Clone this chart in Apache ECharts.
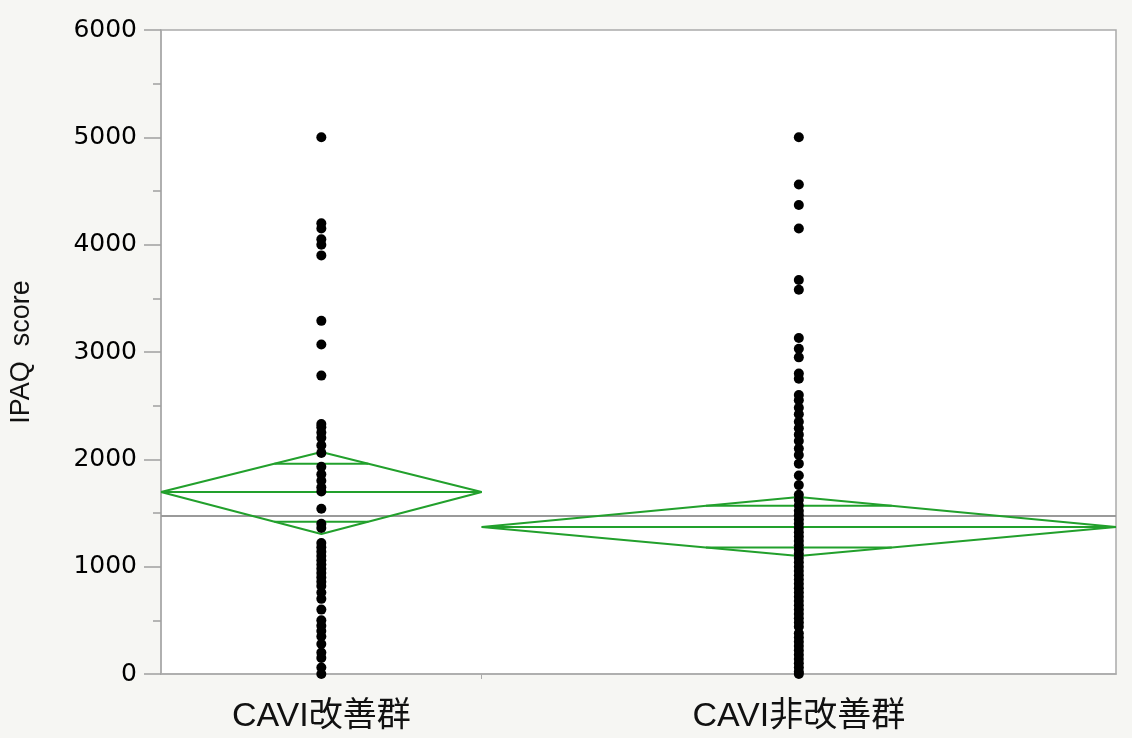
<!DOCTYPE html>
<html><head><meta charset="utf-8">
<script src="https://cdn.jsdelivr.net/npm/echarts@6/dist/echarts.min.js"></script>
<style>html,body{margin:0;padding:0;background:#f6f6f3;}#c{width:1132px;height:738px;}</style>
</head><body><div id="c"></div>
<script>
// ---- data ----
const categories = ['CAVI改善群', 'CAVI非改善群'];
const groupN = [46, 91]; // sample sizes (diamond width proportional)
const improvedValues = [5000, 4200, 4150, 4050, 4000, 3900, 3290, 3070, 2780, 2330, 2300, 2250, 2200, 2130, 2060,
  1930, 1860, 1800, 1740, 1700, 1540, 1400, 1360, 1220, 1180, 1140, 1100, 1060, 1020, 980, 940, 900, 860, 820,
  760, 700, 600, 500, 450, 400, 350, 280, 200, 150, 60, 0];
const nonImprovedValues = [5000, 4560, 4370, 4150, 3670, 3580, 3130, 3030, 2950, 2800, 2750, 2600, 2550, 2480,
  2420, 2350, 2290, 2230, 2170, 2100, 2040, 1960, 1850, 1760, 1670, 1620, 1570, 1520, 1480, 1440, 1400, 1360,
  1320, 1280, 1240, 1200, 1160, 1120, 1080, 1040, 1000, 960, 920, 880, 840, 800, 760, 720, 680, 640, 600, 560,
  520, 480, 440, 380, 340, 300, 260, 220, 180, 140, 100, 60, 20, 0];
const groupMeans = [1696, 1370];
const ciUpper = [2068, 1649];
const ciLower = [1304, 1100];
const grandMean = 1472;
const yTicks = [0, 1000, 2000, 3000, 4000, 5000, 6000];

// ---- layout derived from sample sizes ----
const total = groupN[0] + groupN[1];
const starts = [0, groupN[0]];
const ends = [groupN[0], total];
const centers = [groupN[0] / 2, groupN[0] + groupN[1] / 2];
const groupValues = [improvedValues, nonImprovedValues];

const green = '#22a02c';
const series = [];
// grand mean line
series.push({
  type: 'line', data: [[0, grandMean], [total, grandMean]], symbol: 'none', silent: true,
  lineStyle: { color: '#9a9a9a', width: 2 }, z: 1
});
for (let g = 0; g < 2; g++) {
  const s = starts[g], e = ends[g], c = centers[g], m = groupMeans[g];
  const up = ciUpper[g], lo = ciLower[g];
  const half = c - s;
  const lineBase = { type: 'line', symbol: 'none', silent: true, lineStyle: { color: green, width: 2 }, z: 2 };
  series.push(Object.assign({}, lineBase, { data: [[s, m], [c, up], [e, m], [c, lo], [s, m]] }));
  series.push(Object.assign({}, lineBase, { data: [[s, m], [e, m]] }));
  const k = 1 / Math.SQRT2;
  const w = half * (1 - k);
  const yU = m + (up - m) * k, yL = m - (m - lo) * k;
  series.push(Object.assign({}, lineBase, { data: [[c - w, yU], [c + w, yU]] }));
  series.push(Object.assign({}, lineBase, { data: [[c - w, yL], [c + w, yL]] }));
  series.push({
    type: 'scatter', data: groupValues[g].map(v => [c, v]), symbolSize: 10,
    itemStyle: { color: '#000', opacity: 1 }, z: 5
  });
}

const chart = echarts.init(document.getElementById('c'));
chart.setOption({
  backgroundColor: '#f6f6f3',
  animation: false,
  grid: { left: 161, right: 16, top: 30, bottom: 64, show: true, backgroundColor: '#ffffff', borderColor: '#ababab', borderWidth: 1.5 },
  xAxis: {
    type: 'value', min: 0, max: total,
    splitLine: { show: false },
    axisLine: { show: true, lineStyle: { color: '#ababab', width: 1.5 } },
    axisTick: { show: true, customValues: [groupN[0]], length: 5, lineStyle: { color: '#ababab' } },
    axisLabel: {
      customValues: centers, margin: 26,
      fontFamily: '"Liberation Sans", "Noto Sans CJK JP", sans-serif', fontSize: 34, color: '#111',
      formatter: function (v) { return Math.abs(v - centers[0]) < Math.abs(v - centers[1]) ? categories[0] : categories[1]; }
    }
  },
  yAxis: {
    type: 'value', min: yTicks[0], max: yTicks[yTicks.length - 1], interval: 1000,
    name: 'IPAQ  score', nameLocation: 'middle', nameGap: 126, nameRotate: 90,
    nameTextStyle: { fontFamily: '"Liberation Sans", sans-serif', fontSize: 27, color: '#111' },
    splitLine: { show: false },
    axisLine: { show: true, lineStyle: { color: '#ababab', width: 1.5 } },
    axisTick: { show: true, length: 17, lineStyle: { color: '#a0a0a0', width: 1.5 } },
    minorTick: { show: true, splitNumber: 2, length: 8, lineStyle: { color: '#a0a0a0', width: 1.5 } },
    axisLabel: {
      fontFamily: '"DejaVu Sans", sans-serif', fontSize: 25, color: '#000', margin: 24,
      formatter: function (v) { return String(v); }
    }
  },
  series: series
});
</script></body></html>
